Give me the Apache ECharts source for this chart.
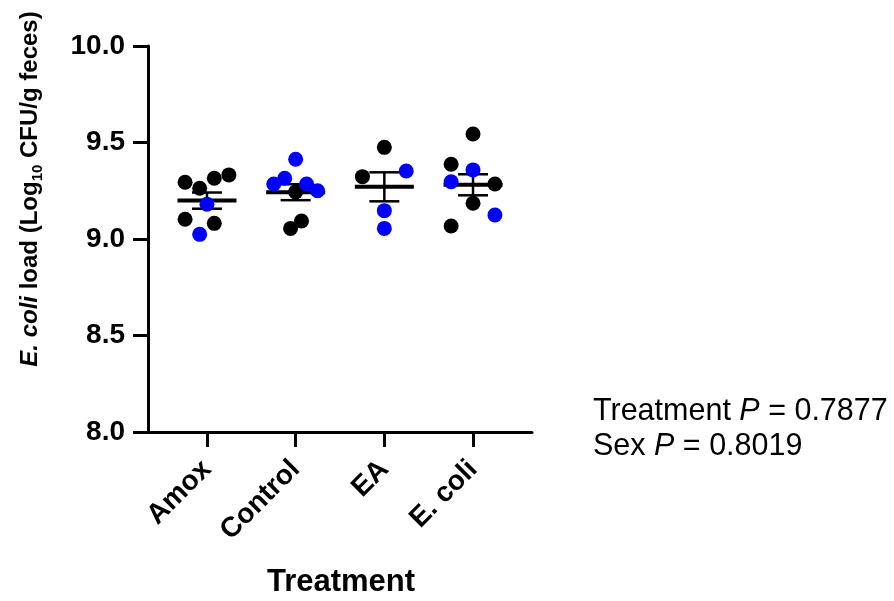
<!DOCTYPE html>
<html>
<head>
<meta charset="utf-8">
<script src="https://cdn.jsdelivr.net/npm/echarts@6/dist/echarts.min.js"></script>
<style>
  html, body { margin: 0; padding: 0; background: #ffffff; }
  #chart { width: 894px; height: 601px; }
</style>
</head>
<body>
<div id="chart"></div>
<script>
// Treatment groups on the x axis
const categories = ['Amox', 'Control', 'EA', 'E. coli'];

// E. coli load per animal (log10 CFU/g feces), sex code, and column slot in the dot plot
const amoxValues    = [9.294, 9.263, 9.315, 9.332, 9.180, 9.102, 9.081, 9.024];
const amoxSex       = ['M', 'M', 'M', 'M', 'F', 'M', 'M', 'F'];
const amoxSlots     = [-3, -1, 1, 3, 0, -3, 1, -1];

const controlValues = [9.413, 9.315, 9.285, 9.285, 9.250, 9.244, 9.093, 9.055];
const controlSex    = ['F', 'F', 'F', 'F', 'F', 'M', 'M', 'M'];
const controlSlots  = [0, -1.5, -3, 1.5, 3, 0, 0.8, -0.7];

const eaValues      = [9.475, 9.323, 9.352, 9.147, 9.055];
const eaSex         = ['M', 'M', 'F', 'F', 'F'];
const eaSlots       = [0, -3, 3, 0, 0];

const ecoliValues   = [9.544, 9.387, 9.358, 9.297, 9.285, 9.185, 9.124, 9.067];
const ecoliSex      = ['M', 'M', 'F', 'F', 'M', 'M', 'F', 'M'];
const ecoliSlots    = [0, -3, 0, -3, 3, 0, 3, -3];

// Y axis ticks
const yTicks = [8.0, 8.5, 9.0, 9.5, 10.0];

// Statistics annotation
const treatmentP = '0.7877';
const sexP = '0.8019';

const groups = [
  { values: amoxValues,    sex: amoxSex,    slots: amoxSlots },
  { values: controlValues, sex: controlSex, slots: controlSlots },
  { values: eaValues,      sex: eaSex,      slots: eaSlots },
  { values: ecoliValues,   sex: ecoliSex,   slots: ecoliSlots }
];

const SLOT = 0.0823;            // horizontal spacing of dots within a column (axis units)
const FONT = "'Liberation Sans', Arial, Helvetica, sans-serif";

// mean ± SEM for each group
const stats = groups.map((g, i) => {
  const n = g.values.length;
  const mean = g.values.reduce((a, b) => a + b, 0) / n;
  const sd = Math.sqrt(g.values.reduce((a, v) => a + (v - mean) * (v - mean), 0) / (n - 1));
  return [i, mean, sd / Math.sqrt(n)];
});

const maleDots = [], femaleDots = [];
groups.forEach((g, i) => {
  g.values.forEach((v, k) => {
    const pt = [i + g.slots[k] * SLOT, v];
    (g.sex[k] === 'F' ? femaleDots : maleDots).push(pt);
  });
});

const chart = echarts.init(document.getElementById('chart'), null, { renderer: 'canvas' });

chart.setOption({
  animation: false,
  backgroundColor: '#ffffff',
  grid: { left: 148, right: 362, top: 46, bottom: 169 },
  xAxis: {
    type: 'value',
    min: -0.665,
    max: 3.665,
    splitLine: { show: false },
    axisLine: { show: true, onZero: false, lineStyle: { color: '#000', width: 3 } },
    axisTick: { show: true, customValues: [0, 1, 2, 3], length: 15, lineStyle: { color: '#000', width: 3 } },
    axisLabel: {
      customValues: [0, 1, 2, 3],
      formatter: v => categories[Math.round(v)],
      rotate: 45,
      margin: 33,
      color: '#000',
      fontSize: 28,
      fontWeight: 'bold',
      fontFamily: FONT
    }
  },
  yAxis: {
    type: 'value',
    min: yTicks[0],
    max: yTicks[yTicks.length - 1],
    interval: 0.5,
    splitLine: { show: false },
    axisLine: { show: true, onZero: false, lineStyle: { color: '#000', width: 3 } },
    axisTick: { show: true, length: 15, lineStyle: { color: '#000', width: 3 } },
    axisLabel: {
      formatter: v => v.toFixed(1),
      margin: 23,
      color: '#000',
      fontSize: 28,
      fontWeight: 'bold',
      fontFamily: FONT
    }
  },
  series: [
    {
      type: 'custom',
      z: 2,
      data: stats,
      renderItem: (params, api) => {
        const x = api.value(0), m = api.value(1), se = api.value(2);
        const c = api.coord([x, m]);
        const hi = api.coord([x, m + se]);
        const lo = api.coord([x, m - se]);
        const errStyle = { stroke: '#000', lineWidth: 2.5 };
        return {
          type: 'group',
          children: [
            { type: 'line', shape: { x1: c[0], y1: hi[1], x2: c[0], y2: lo[1] }, style: errStyle },
            { type: 'line', shape: { x1: c[0] - 15, y1: hi[1], x2: c[0] + 15, y2: hi[1] }, style: errStyle },
            { type: 'line', shape: { x1: c[0] - 15, y1: lo[1], x2: c[0] + 15, y2: lo[1] }, style: errStyle },
            { type: 'line', shape: { x1: c[0] - 29.5, y1: c[1], x2: c[0] + 29.5, y2: c[1] }, style: { stroke: '#000', lineWidth: 4 } }
          ]
        };
      }
    },
    {
      type: 'scatter',
      z: 3,
      data: maleDots,
      symbol: 'circle',
      symbolSize: 15,
      itemStyle: { color: '#000000', opacity: 1 }
    },
    {
      type: 'scatter',
      z: 3,
      data: femaleDots,
      symbol: 'circle',
      symbolSize: 15,
      itemStyle: { color: '#0000ff', opacity: 1 }
    }
  ],
  graphic: [
    {
      type: 'text',
      x: 30,
      y: 189,
      rotation: Math.PI / 2,
      style: {
        text: '{i|E. coli}{b| load (Log}{s|10}{b| CFU/g feces)}',
        align: 'center',
        verticalAlign: 'middle',
        fill: '#000',
        rich: {
          i: { fontFamily: FONT, fontSize: 24, fontWeight: 'bold', fontStyle: 'italic', lineHeight: 30, fill: '#000' },
          b: { fontFamily: FONT, fontSize: 24, fontWeight: 'bold', lineHeight: 30, fill: '#000' },
          s: { fontFamily: FONT, fontSize: 15, fontWeight: 'bold', lineHeight: 15, verticalAlign: 'bottom', fill: '#000' }
        }
      }
    },
    {
      type: 'text',
      x: 341,
      y: 582,
      style: {
        text: 'Treatment',
        align: 'center',
        verticalAlign: 'middle',
        fontFamily: FONT,
        fontSize: 31,
        fontWeight: 'bold',
        fill: '#000'
      }
    },
    {
      type: 'text',
      x: 593,
      y: 412,
      style: {
        text: '{r|Treatment }{p|P}{r| = ' + treatmentP + '}',
        verticalAlign: 'middle',
        rich: {
          r: { fontFamily: FONT, fontSize: 30.5, fill: '#000' },
          p: { fontFamily: FONT, fontSize: 30.5, fontStyle: 'italic', fill: '#000' }
        }
      }
    },
    {
      type: 'text',
      x: 593,
      y: 447,
      style: {
        text: '{r|Sex }{p|P}{r| = ' + sexP + '}',
        verticalAlign: 'middle',
        rich: {
          r: { fontFamily: FONT, fontSize: 30.5, fill: '#000' },
          p: { fontFamily: FONT, fontSize: 30.5, fontStyle: 'italic', fill: '#000' }
        }
      }
    }
  ]
});
</script>
</body>
</html>
